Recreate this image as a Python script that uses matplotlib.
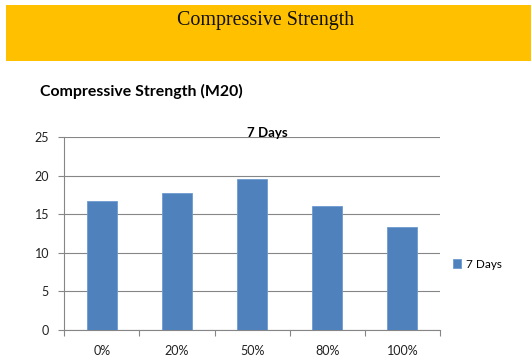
import matplotlib
matplotlib.use("Agg")
import matplotlib.pyplot as plt
from matplotlib.patches import Rectangle
import numpy as np

categories = ["0%", "20%", "50%", "80%", "100%"]
strength_7_days = [16.8, 17.8, 19.6, 16.1, 13.4]
y_ticks = [0, 5, 10, 15, 20, 25]

W, H = 531, 360
fig = plt.figure(figsize=(W / 100, H / 100), dpi=100)
fig.patch.set_facecolor("white")

# Header banner
fig.add_artist(Rectangle((6 / W, 1 - 61 / H), 1 - 6 / W, 56 / H,
                         transform=fig.transFigure, facecolor="#FFC000",
                         edgecolor="none", zorder=0))
fig.text(266 / W, 1 - 21 / H, "Compressive Strength", ha="center", va="center",
         family="Liberation Serif", fontsize=14.4, color="#111111")

fig.text(40 / W, 1 - 91 / H, "Compressive Strength (M20)", ha="left", va="center",
         family="Lato", fontweight="bold", fontsize=11.4, color="black")

left, right, top, bottom = 64.3, 440, 137.3, 330
ax = fig.add_axes([left / W, 1 - bottom / H, (right - left) / W, (bottom - top) / H])

x = np.arange(len(categories))
bars = ax.bar(x, strength_7_days, width=0.4, color="#4F81BD", edgecolor="#6E9AD0",
              linewidth=0.6, label="7 Days", zorder=3)

ax.set_xlim(-0.5, len(categories) - 0.5)
ax.set_ylim(0, 25)
ax.set_yticks(y_ticks)
ax.set_yticklabels([str(v) for v in y_ticks])
ax.set_xticks(x)
ax.set_xticklabels(categories)
ax.set_xticks(np.arange(-0.5, len(categories), 1.0), minor=True)

ax.yaxis.grid(True, color="#868686", linewidth=0.8, zorder=0)
ax.set_axisbelow(True)

for s in ["top", "right"]:
    ax.spines[s].set_visible(False)
for s in ["left", "bottom"]:
    ax.spines[s].set_color("#868686")
    ax.spines[s].set_linewidth(0.8)

ax.tick_params(axis="y", length=4, width=0.8, color="#868686", pad=7,
               labelsize=9, labelcolor="#222222")
ax.tick_params(axis="x", which="major", length=0, pad=11, labelsize=9,
               labelcolor="#222222")
ax.tick_params(axis="x", which="minor", length=4, width=0.8, color="#868686")
for lbl in ax.get_xticklabels() + ax.get_yticklabels():
    lbl.set_family("Lato")

ax.text(0.54, 1.02, "7 Days", transform=ax.transAxes, ha="center", va="center",
        family="Lato", fontweight="bold", fontsize=9.5, color="black")

leg = fig.legend(handles=[bars], labels=["7 Days"], loc="center left",
                 bbox_to_anchor=(442 / W, 1 - 264 / H), frameon=False,
                 prop={"family": "Lato", "size": 8.5}, handlelength=0.7,
                 handleheight=0.7, handletextpad=0.4)

fig.savefig("out.png", dpi=100, facecolor="white")
